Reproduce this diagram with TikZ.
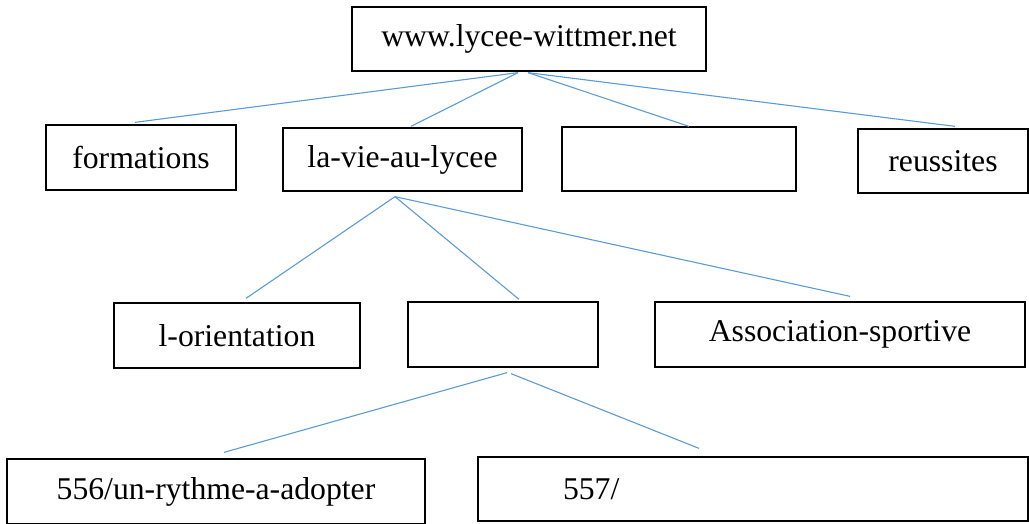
\documentclass[tikz,border=0pt]{standalone}
\usepackage{fontspec}
\setmainfont{Liberation Serif}
\usepackage{tikz}
\usetikzlibrary{positioning}
\definecolor{lienbleu}{HTML}{5B9BD5}

\begin{document}
\begin{tikzpicture}[x=1pt, y=-1pt,
  page/.style={draw, line width=1.3pt, inner sep=0pt, font=\rmfamily\fontsize{31.7}{38}\selectfont},
  lien/.style={lienbleu, line width=1.1pt}]
  \useasboundingbox (0,0) rectangle (1029,523);

  % Site root
  \node[page, minimum width=354pt, minimum height=64pt] (site) at (529,39) {www.lycee-wittmer.net};

  % First level
  \node[page, minimum width=190pt, minimum height=65pt] (formations) at (141,157.5) {formations};
  \node[page, minimum width=239pt, minimum height=63pt] (lavie) at (402.5,159.5) {la-vie-au-lycee};
  \node[page, minimum width=234pt, minimum height=64pt] (vide1) at (679,159) {};
  \node[page, minimum width=170pt, minimum height=64pt] (reussites) at (943,161) {reussites};

  % Second level
  \node[page, minimum width=246pt, minimum height=65pt] (orientation) at (237,335.5) {l-orientation};
  \node[page, minimum width=190pt, minimum height=65pt] (vide2) at (503,334.5) {};
  \node[page, minimum width=370pt, minimum height=65pt] (asso) at (840,334.5) {Association-sportive};

  % Third level
  \node[page, minimum width=418pt, minimum height=65pt] (b556) at (216,491.5) {556/un-rythme-a-adopter};
  \node[page, minimum width=550pt, minimum height=64pt, text width=550pt, align=left] (b557) at (753,489) {\hspace*{85pt}557/};

  % Links from the site
  \draw[lien] ([xshift=-11pt,yshift=-1pt]site.south) -- ([xshift=-6pt,yshift=2pt]formations.north);
  \draw[lien] ([xshift=-11pt,yshift=-1pt]site.south) -- ([xshift=8.5pt,yshift=1pt]lavie.north);
  \draw[lien] ([xshift=-1pt,yshift=-1pt]site.south) -- ([xshift=10pt]vide1.north);
  \draw[lien] ([xshift=-1pt,yshift=-1pt]site.south) -- ([xshift=12pt,yshift=2pt]reussites.north);

  % Links from la-vie-au-lycee
  \draw[lien] ([xshift=-7.5pt,yshift=-5pt]lavie.south) -- ([xshift=9pt,yshift=4pt]orientation.north);
  \draw[lien] ([xshift=-7.5pt,yshift=-5pt]lavie.south) -- ([xshift=16pt,yshift=2pt]vide2.north);
  \draw[lien] ([xshift=-7.5pt,yshift=-5pt]lavie.south) -- ([xshift=10pt,yshift=5pt]asso.north);

  % Links to the pages
  \draw[lien] ([xshift=4pt,yshift=-5pt]vide2.south) -- ([xshift=8pt,yshift=6pt]b556.north);
  \draw[lien] ([xshift=8pt,yshift=-6pt]vide2.south) -- ([xshift=-54pt,yshift=8pt]b557.north);
\end{tikzpicture}
\end{document}
